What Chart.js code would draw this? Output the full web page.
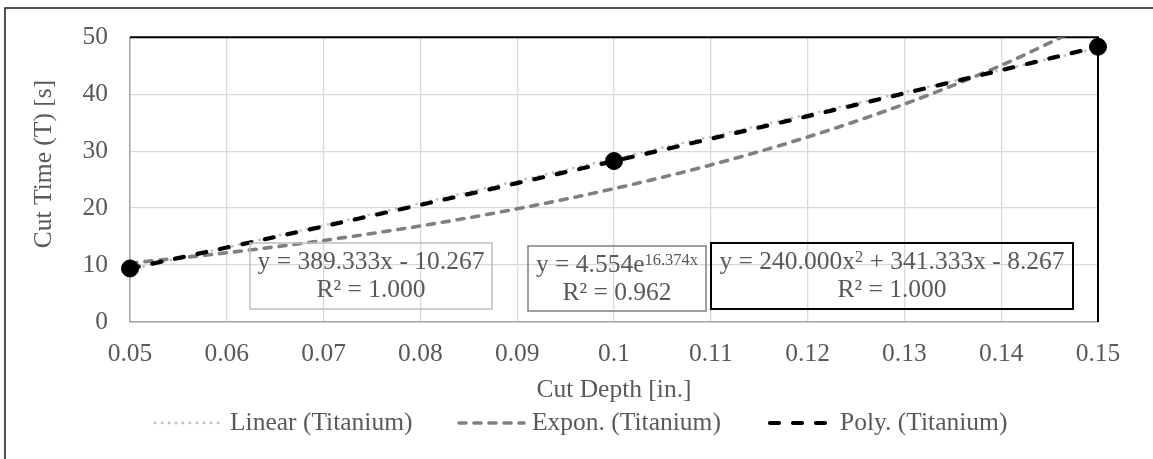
<!DOCTYPE html>
<html>
<head>
<meta charset="utf-8">
<script src="https://cdn.jsdelivr.net/npm/chart.js@4.4.1/dist/chart.umd.min.js"></script>
<style>
  html, body { margin: 0; padding: 0; background: #ffffff; }
  #wrap { width: 1153px; height: 459px; position: relative; }
</style>
</head>
<body>
<div id="wrap"><canvas id="c" width="1153" height="459"></canvas></div>
<script>
// Measured cut times for titanium at three cut depths
const cutDepth = [0.05, 0.10, 0.15];
const cutTime  = [9.400, 28.267, 48.333];

// Axis ticks
const xTicks = [0.05, 0.06, 0.07, 0.08, 0.09, 0.10, 0.11, 0.12, 0.13, 0.14, 0.15];
const yTicks = [0, 10, 20, 30, 40, 50];

// Trendline fits (coefficients as reported on the chart)
const linearCoef = [389.333, -10.267];          // y = a x + b
const exponCoef  = [4.554, 16.374];             // y = a e^(b x)
const polyCoef   = [240.000, 341.333, -8.267];  // y = a x^2 + b x + c
const rSquared   = [1.000, 0.962, 1.000];       // linear, expon., poly.

const seriesName = 'Titanium';
const trendNames = ['Linear', 'Expon.', 'Poly.'];
const xTitle = 'Cut Depth [in.]';
const yTitle = 'Cut Time (T) [s]';

const FONT = "'Liberation Serif', 'Times New Roman', serif";
const FS = 25.5;
const SUP = 16.5;
const TEXT = '#595959';

const linY = x => linearCoef[0] * x + linearCoef[1];
const expY = x => exponCoef[0] * Math.exp(exponCoef[1] * x);
const polY = x => polyCoef[0] * x * x + polyCoef[1] * x + polyCoef[2];

const trendStyles = [
  { color: '#BFBFBF', width: 2.8, dash: [0, 7],  cap: 'round' },
  { color: '#808080', width: 3.6, dash: [7, 8],  cap: 'round' },
  { color: '#000000', width: 4.2, dash: [9, 14], cap: 'round' }
];

const fmt = v => v.toFixed(3);
const sign = v => (v < 0 ? ' - ' : ' + ') + fmt(Math.abs(v));

// Equation labels: each line is a list of [text, superscript?] runs
const eqLabels = [
  { box: [250, 243, 242, 66], stroke: '#BFBFBF', lw: 1.5,
    lines: [[['y = ' + fmt(linearCoef[0]) + 'x' + sign(linearCoef[1]), false]],
            [['R² = ' + fmt(rSquared[0]), false]]] },
  { box: [528, 246, 178, 65], stroke: '#808080', lw: 1.5,
    lines: [[['y = ' + fmt(exponCoef[0]) + 'e', false], [fmt(exponCoef[1]) + 'x', true]],
            [['R² = ' + fmt(rSquared[1]), false]]] },
  { box: [711, 243, 362, 66], stroke: '#000000', lw: 2,
    lines: [[['y = ' + fmt(polyCoef[0]) + 'x', false], ['2', true],
             [sign(polyCoef[1]) + 'x' + sign(polyCoef[2]), false]],
            [['R² = ' + fmt(rSquared[2]), false]]] }
];

const trendData = [
  [cutDepth[0], cutDepth[2]].map(x => ({ x, y: linY(x) })),
  xTicks.map(x => ({ x, y: expY(x) })),
  xTicks.map(x => ({ x, y: polY(x) }))
];

const decorations = {
  id: 'decorations',
  beforeDatasetsDraw(chart) {
    const { ctx, chartArea: a } = chart;
    ctx.save();
    ctx.strokeStyle = '#000000';
    ctx.lineWidth = 2;
    ctx.beginPath();
    ctx.moveTo(a.left, a.top);
    ctx.lineTo(a.right, a.top);
    ctx.lineTo(a.right, a.bottom);
    ctx.stroke();
    ctx.restore();
  },
  afterDraw(chart) {
    const { ctx } = chart;
    ctx.save();
    // outer frame
    ctx.strokeStyle = '#1a1a1a';
    ctx.lineWidth = 1.5;
    ctx.strokeRect(5, 8, 1170, 470);

    // y-axis title
    ctx.fillStyle = TEXT;
    ctx.font = FS + 'px ' + FONT;
    ctx.textAlign = 'center';
    ctx.textBaseline = 'middle';
    ctx.save();
    ctx.translate(44, 164);
    ctx.rotate(-Math.PI / 2);
    ctx.fillText(yTitle, 0, 0);
    ctx.restore();

    // equation labels
    eqLabels.forEach(lab => {
      const [bx, by, bw, bh] = lab.box;
      ctx.strokeStyle = lab.stroke;
      ctx.lineWidth = lab.lw;
      ctx.strokeRect(bx, by, bw, bh);
      lab.lines.forEach((runs, i) => {
        const cy = by + 19 + i * 28;
        let total = 0;
        const widths = runs.map(([t, sup]) => {
          ctx.font = (sup ? SUP : FS) + 'px ' + FONT;
          const w = ctx.measureText(t).width;
          total += w;
          return w;
        });
        let x = bx + bw / 2 - total / 2;
        ctx.textAlign = 'left';
        runs.forEach(([t, sup], k) => {
          ctx.font = (sup ? SUP : FS) + 'px ' + FONT;
          ctx.fillStyle = TEXT;
          ctx.fillText(t, x, sup ? cy - 4.5 : cy);
          x += widths[k];
        });
      });
    });

    // legend
    const ly = 423;
    const items = [
      { x0: 155, x1: 220, tx: 230 },
      { x0: 459, x1: 524, tx: 532 },
      { x0: 770, x1: 835, tx: 840 }
    ];
    items.forEach((it, i) => {
      const s = trendStyles[i];
      ctx.strokeStyle = s.color;
      ctx.lineWidth = s.width;
      ctx.lineCap = s.cap;
      ctx.setLineDash(s.dash);
      ctx.beginPath();
      ctx.moveTo(it.x0, ly);
      ctx.lineTo(it.x1, ly);
      ctx.stroke();
      ctx.setLineDash([]);
      ctx.font = FS + 'px ' + FONT;
      ctx.fillStyle = TEXT;
      ctx.textAlign = 'left';
      ctx.textBaseline = 'middle';
      ctx.fillText(trendNames[i] + ' (' + seriesName + ')', it.tx, ly);
    });
    ctx.restore();
  }
};

const datasets = trendData.map((d, i) => ({
  type: 'line',
  label: trendNames[i] + ' (' + seriesName + ')',
  data: d,
  borderColor: trendStyles[i].color,
  borderWidth: trendStyles[i].width,
  borderDash: trendStyles[i].dash,
  borderCapStyle: trendStyles[i].cap,
  cubicInterpolationMode: 'monotone',
  pointRadius: 0,
  fill: false,
  order: 3 - i
}));
datasets.push({
  type: 'scatter',
  label: seriesName,
  data: cutDepth.map((x, i) => ({ x, y: cutTime[i] })),
  backgroundColor: '#000000',
  borderColor: '#000000',
  pointRadius: 8.5,
  pointHoverRadius: 8.5,
  showLine: false,
  order: 0,
  clip: false
});

new Chart(document.getElementById('c'), {
  type: 'scatter',
  data: { datasets },
  plugins: [decorations],
  options: {
    responsive: false,
    devicePixelRatio: 1,
    animation: false,
    layout: { padding: { top: 33, right: 55, left: 0, bottom: 0 } },
    plugins: { legend: { display: false }, tooltip: { enabled: false } },
    scales: {
      x: {
        type: 'linear', min: 0.05, max: 0.15,
        afterBuildTicks: s => { s.ticks = xTicks.map(v => ({ value: v })); },
        afterFit: s => { s.height = 137; },
        ticks: {
          padding: 17, color: TEXT, font: { family: FONT, size: FS },
          callback: v => String(+v.toFixed(2))
        },
        grid: { color: '#D9D9D9', lineWidth: 1.3, drawTicks: false },
        border: { color: '#A6A6A6', width: 1.5 },
        title: { display: true, text: xTitle, color: TEXT, font: { family: FONT, size: FS }, padding: { top: 0, bottom: 53.5 } }
      },
      y: {
        type: 'linear', min: 0, max: 50,
        afterBuildTicks: s => { s.ticks = yTicks.map(v => ({ value: v })); },
        afterFit: s => { s.width = 130; },
        ticks: { padding: 22, color: TEXT, font: { family: FONT, size: FS } },
        grid: { color: '#D9D9D9', lineWidth: 1.3, drawTicks: false },
        border: { color: '#A6A6A6', width: 1.5 }
      }
    }
  }
});
</script>
</body>
</html>
